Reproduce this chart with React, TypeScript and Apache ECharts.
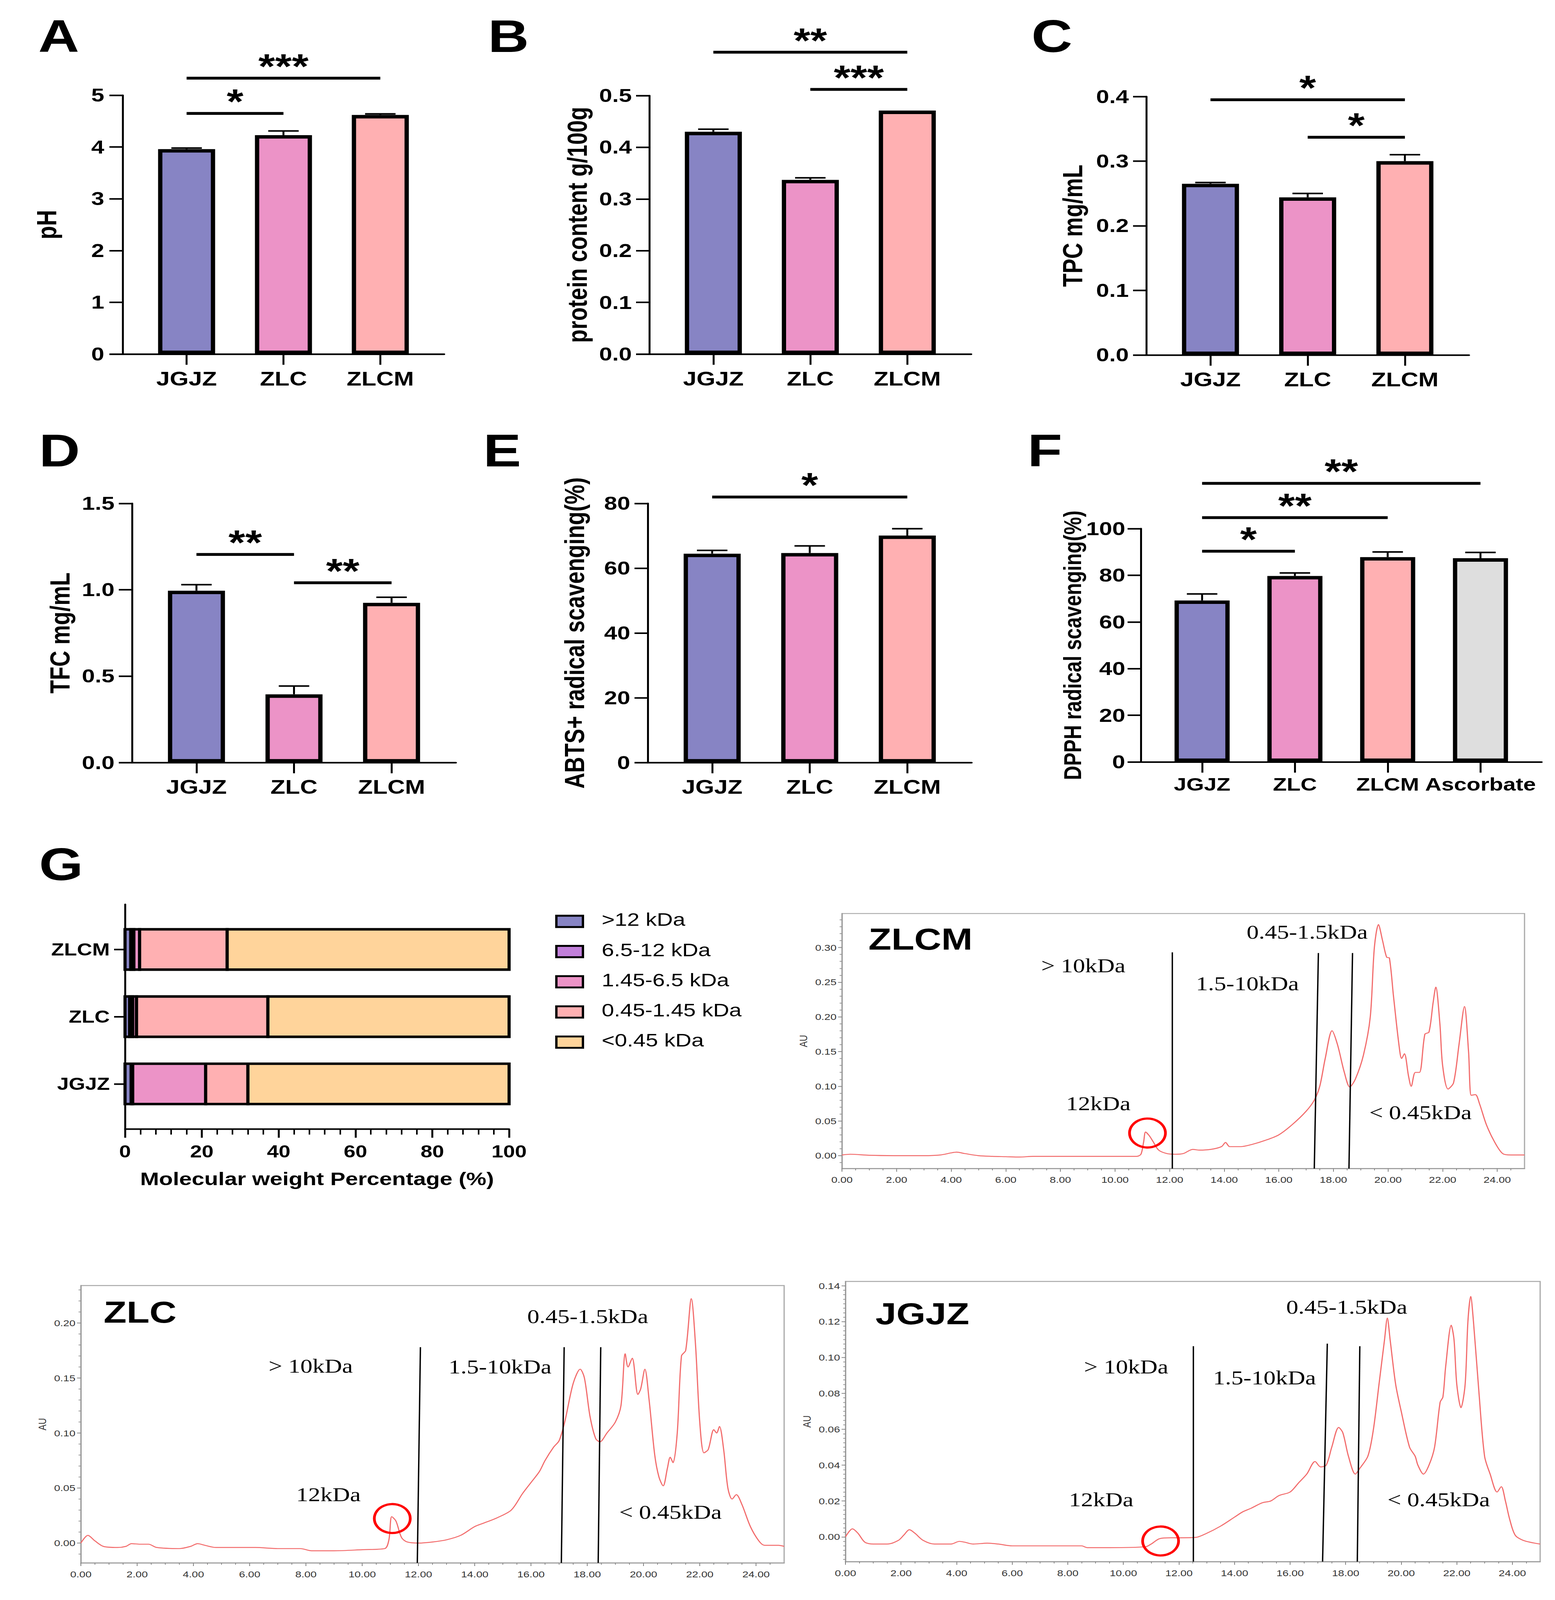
import React, { useEffect, useRef, useState } from 'react';
import * as echarts from 'echarts';

const SANS = '"Liberation Sans", Arial, Helvetica, sans-serif';
const SERIF = '"Liberation Serif", "Times New Roman", serif';
const DESIGN_W = 3980;
const DESIGN_H = 5088;

// ---------------- Panels A–F data ----------------
const groups3 = ['JGJZ', 'ZLC', 'ZLCM'];
const groups4 = ['JGJZ', 'ZLC', 'ZLCM', 'Ascorbate'];
const groupColors = ['#8784C4', '#EC93C7', '#FFB0B2', '#DEDEDE'];

const phMean = [3.96, 4.23, 4.62];
const phErr = [0.02, 0.08, 0.02];
const proteinMean = [0.43, 0.337, 0.471];
const proteinErr = [0.005, 0.004, 0.0];
const tpcMean = [0.265, 0.244, 0.3];
const tpcErr = [0.002, 0.006, 0.01];
const tfcMean = [0.995, 0.395, 0.925];
const tfcErr = [0.035, 0.048, 0.032];
const abtsMean = [64.5, 64.7, 70.1];
const abtsErr = [1.0, 2.2, 2.1];
const dpphMean = [69.2, 79.7, 87.8, 87.3];
const dpphErr = [2.8, 1.3, 2.2, 2.5];

// significance brackets: [fromGroup, toGroup, level (data units), stars]
const sigA: any[] = [[0, 2, 5.33, '***'], [0, 1, 4.65, '*']];
const sigB: any[] = [[0, 2, 0.584, '**'], [1, 2, 0.512, '***']];
const sigC: any[] = [[0, 2, 0.395, '*'], [1, 2, 0.337, '*']];
const sigD: any[] = [[0, 1, 1.205, '**'], [1, 2, 1.041, '**']];
const sigE: any[] = [[0, 2, 82.0, '*']];
const sigF: any[] = [[0, 3, 119.4, '**'], [0, 2, 104.7, '**'], [0, 1, 90.3, '*']];

// ---------------- Panel G data ----------------
const gCats = ['JGJZ', 'ZLC', 'ZLCM'];
const gSegNames = ['>12 kDa', '6.5-12 kDa', '1.45-6.5 kDa', '0.45-1.45 kDa', '<0.45 kDa'];
const gSegColors = ['#8784C4', '#C17FDA', '#EC93C7', '#FFB0B2', '#FFD49B'];
const gGt12 = [1.6, 1.2, 1.5];
const g65to12 = [0.4, 0.8, 0.8];
const g145to65 = [19.0, 1.0, 1.5];
const g045to145 = [11.0, 34.2, 22.8];
const gLt045 = [68.0, 62.8, 73.4];

// ---------------- Chromatogram data (time min, AU) ----------------
const zlcmTrace = [
  [0, 0.001], [0.3, 0.002], [1, 0.0005], [2, 0], [3, 0], [3.6, 0.001], [4.0, 0.004], [4.2, 0.005], [4.5, 0.003],
  [5.0, 0], [5.5, -0.001], [6.0, -0.0015], [6.5, -0.002], [7, -0.001], [8, -0.001], [9, -0.001], [10, -0.001],
  [10.8, -0.001], [10.95, 0.002], [11.05, 0.02], [11.12, 0.034], [11.25, 0.029], [11.4, 0.02], [11.6, 0.008],
  [11.9, 0.003], [12.2, 0.002], [12.5, 0.003], [12.85, 0.009], [13.1, 0.008], [13.5, 0.009], [13.9, 0.013],
  [14.05, 0.019], [14.2, 0.013], [14.6, 0.013], [15.0, 0.016], [15.5, 0.022], [16.0, 0.03], [16.5, 0.045],
  [17.0, 0.064], [17.3, 0.08], [17.5, 0.1], [17.7, 0.14], [17.95, 0.18], [18.15, 0.16], [18.4, 0.12],
  [18.6, 0.099], [18.8, 0.11], [19.1, 0.145], [19.35, 0.2], [19.5, 0.3], [19.65, 0.333], [19.8, 0.31],
  [19.95, 0.286], [20.05, 0.285], [20.2, 0.23], [20.4, 0.16], [20.5, 0.14], [20.6, 0.147], [20.75, 0.115],
  [20.85, 0.1], [21.0, 0.12], [21.15, 0.12], [21.35, 0.175], [21.5, 0.178], [21.65, 0.22], [21.75, 0.243],
  [21.9, 0.19], [22.0, 0.13], [22.2, 0.096], [22.4, 0.105], [22.6, 0.16], [22.8, 0.215], [22.95, 0.15],
  [23.05, 0.087], [23.2, 0.088], [23.35, 0.075], [23.6, 0.045], [23.9, 0.02], [24.2, 0.003], [24.5, 0.001], [25, 0.001],
];
const zlcTrace = [
  [0, 0], [0.25, 0.007], [0.5, 0.002], [0.8, -0.003], [1.3, -0.004], [1.6, -0.003], [1.8, -0.0005], [2.1, -0.001],
  [2.4, -0.001], [2.7, -0.004], [3.5, -0.005], [3.9, -0.003], [4.15, -0.0005], [4.4, -0.002], [4.8, -0.004],
  [5.5, -0.004], [6.2, -0.004], [7, -0.005], [7.8, -0.005], [8.2, -0.007], [9, -0.007], [10, -0.006],
  [10.8, -0.005], [10.95, 0.003], [11.05, 0.024], [11.2, 0.02], [11.4, 0.005], [11.6, 0.001], [12.0, 0],
  [12.5, 0.001], [13, 0.003], [13.5, 0.007], [14.0, 0.015], [14.3, 0.018], [14.8, 0.023], [15.3, 0.03],
  [15.7, 0.045], [16.0, 0.055], [16.3, 0.065], [16.5, 0.075], [16.8, 0.087], [17.0, 0.093], [17.2, 0.11],
  [17.5, 0.145], [17.75, 0.158], [17.9, 0.15], [18.1, 0.115], [18.3, 0.095], [18.45, 0.092], [18.7, 0.1],
  [19.0, 0.11], [19.2, 0.125], [19.35, 0.172], [19.45, 0.16], [19.6, 0.168], [19.8, 0.135], [19.9, 0.14],
  [20.05, 0.158], [20.2, 0.13], [20.4, 0.08], [20.55, 0.06], [20.7, 0.052], [20.85, 0.068], [20.95, 0.078],
  [21.05, 0.073], [21.2, 0.1], [21.35, 0.17], [21.5, 0.175], [21.7, 0.222], [21.85, 0.18], [22.0, 0.11],
  [22.15, 0.082], [22.3, 0.085], [22.5, 0.103], [22.6, 0.1], [22.7, 0.106], [22.85, 0.085], [23.0, 0.05],
  [23.15, 0.04], [23.3, 0.044], [23.5, 0.035], [23.8, 0.015], [24.1, 0.002], [24.3, -0.002], [24.8, -0.002], [25, -0.003],
];
const jgjzTrace = [
  [0, 0], [0.25, 0.0045], [0.45, 0.002], [0.7, -0.003], [1.0, -0.004], [1.5, -0.004], [1.9, -0.002], [2.1, 0.001],
  [2.3, 0.004], [2.5, 0.002], [2.8, -0.002], [3.2, -0.004], [3.8, -0.004], [4.1, -0.0025], [4.3, -0.003],
  [4.6, -0.004], [5.1, -0.0035], [5.5, -0.004], [6.0, -0.005], [7, -0.005], [8.5, -0.005], [8.7, -0.006],
  [9.5, -0.006], [10.8, -0.0055], [11.0, -0.004], [11.3, -0.001], [11.7, -0.0005], [12.0, -0.0005],
  [12.6, -0.0003], [13.0, 0.002], [13.5, 0.006], [14.0, 0.011], [14.3, 0.014], [14.6, 0.016], [15.0, 0.019],
  [15.3, 0.02], [15.6, 0.023], [16.0, 0.025], [16.3, 0.03], [16.6, 0.035], [16.9, 0.042], [17.1, 0.039],
  [17.3, 0.04], [17.5, 0.05], [17.75, 0.061], [17.9, 0.058], [18.1, 0.045], [18.35, 0.035], [18.5, 0.038],
  [18.8, 0.045], [19.0, 0.06], [19.2, 0.085], [19.4, 0.11], [19.5, 0.122], [19.6, 0.11], [19.8, 0.085],
  [20.0, 0.07], [20.3, 0.05], [20.5, 0.045], [20.6, 0.04], [20.8, 0.035], [21.0, 0.04], [21.2, 0.05],
  [21.4, 0.075], [21.5, 0.078], [21.6, 0.095], [21.8, 0.118], [21.9, 0.11], [22.0, 0.085], [22.15, 0.072],
  [22.3, 0.085], [22.4, 0.12], [22.5, 0.134], [22.6, 0.12], [22.8, 0.08], [23.0, 0.045], [23.2, 0.035],
  [23.45, 0.025], [23.6, 0.028], [23.75, 0.02], [23.9, 0.01], [24.1, 0.001], [24.4, -0.002], [25, -0.004],
];

// annotations in (time, AU)
const zlcmMarks: any[] = [['> 10kDa', 8.84, 0.274], ['1.5-10kDa', 14.85, 0.248], ['0.45-1.5kDa', 17.04, 0.322], ['12kDa', 9.39, 0.075], ['< 0.45kDa', 21.19, 0.062]];
const zlcmCuts = [[12.1, 0.293, 12.1], [17.45, 0.292, 17.3], [18.7, 0.292, 18.57]];
const zlcmCircle = [11.19, 0.0326];
const zlcMarks: any[] = [['> 10kDa', 8.17, 0.161], ['1.5-10kDa', 14.9, 0.16], ['0.45-1.5kDa', 18.02, 0.206], ['12kDa', 8.8, 0.044], ['< 0.45kDa', 20.96, 0.028]];
const zlcCuts = [[12.07, 0.178, 11.96], [17.18, 0.178, 17.08], [18.48, 0.178, 18.39]];
const zlcCircle = [11.07, 0.0223];
const jgjzMarks: any[] = [['> 10kDa', 10.1, 0.0948], ['1.5-10kDa', 15.08, 0.0887], ['0.45-1.5kDa', 18.04, 0.128], ['12kDa', 9.2, 0.0207], ['< 0.45kDa', 21.35, 0.0207]];
const jgjzCuts = [[12.52, 0.1063, 12.52], [17.34, 0.1077, 17.17], [18.51, 0.1063, 18.42]];
const jgjzCircle = [11.34, -0.0023];

const zlcmYTicks = [0, 0.05, 0.1, 0.15, 0.2, 0.25, 0.3];
const zlcYTicks = [0, 0.05, 0.1, 0.15, 0.2];
const jgjzYTicks = [0, 0.02, 0.04, 0.06, 0.08, 0.1, 0.12, 0.14];
const chromXTicks = [0, 2, 4, 6, 8, 10, 12, 14, 16, 18, 20, 22, 24];

function steps(a: number, b: number, s: number) {
  const out: number[] = [];
  const n = Math.round((b - a) / s);
  for (let i = 0; i <= n; i++) out.push(+(a + i * s).toFixed(5));
  return out;
}

// ---------------- layout ----------------
const barPanels = [
  { cats: groups3, mean: phMean, err: phErr, sig: sigA, grid: { left: 314, top: 303, width: 823, height: 823 }, yMax: 5, yInt: 1, dec: 0, title: 'pH', nameGap: 160, catFont: 62, titleFont: 70, barW: 146, labMargin: 47, tickMargin: 47 },
  { cats: groups3, mean: proteinMean, err: proteinErr, sig: sigB, grid: { left: 1662, top: 304, width: 824, height: 822 }, yMax: 0.5, yInt: 0.1, dec: 1, title: 'protein content g/100g', nameGap: 150, catFont: 62, titleFont: 70, barW: 146, labMargin: 47, tickMargin: 45 },
  { cats: groups3, mean: tpcMean, err: tpcErr, sig: sigC, grid: { left: 2934, top: 307, width: 826, height: 822 }, yMax: 0.4, yInt: 0.1, dec: 1, title: 'TPC mg/mL', nameGap: 154, catFont: 62, titleFont: 70, barW: 146, labMargin: 47, tickMargin: 45 },
  { cats: groups3, mean: tfcMean, err: tfcErr, sig: sigD, grid: { left: 338, top: 1601, width: 829, height: 824 }, yMax: 1.5, yInt: 0.5, dec: 1, title: 'TFC mg/mL', nameGap: 150, catFont: 62, titleFont: 70, barW: 146, labMargin: 47, tickMargin: 45 },
  { cats: groups3, mean: abtsMean, err: abtsErr, sig: sigE, grid: { left: 1658, top: 1601, width: 829, height: 824 }, yMax: 80, yInt: 20, dec: 0, title: 'ABTS+ radical scavenging(%)', nameGap: 153, catFont: 62, titleFont: 70, barW: 146, labMargin: 47, tickMargin: 45 },
  { cats: groups4, mean: dpphMean, err: dpphErr, sig: sigF, grid: { left: 2920, top: 1681, width: 1026, height: 742 }, yMax: 100, yInt: 20, dec: 0, title: 'DPPH radical scavenging(%)', nameGap: 140, catFont: 58, titleFont: 63, barW: 141, labMargin: 42, tickMargin: 40 },
];

const chroms = [
  { trace: zlcmTrace, name: 'ZLCM', marks: zlcmMarks, cuts: zlcmCuts, circle: zlcmCircle, titleAt: [0.97, 0.312], yMin: -0.0186, yMax: 0.349, yTicks: zlcmYTicks, yMinor: steps(-0.01, 0.34, 0.01), grid: { left: 2155, top: 2905, width: 1747, height: 811 } },
  { trace: zlcTrace, name: 'ZLC', marks: zlcMarks, cuts: zlcCuts, circle: zlcCircle, titleAt: [0.81, 0.21], yMin: -0.018, yMax: 0.234, yTicks: zlcYTicks, yMinor: steps(-0.01, 0.23, 0.01), grid: { left: 207, top: 4088, width: 1800, height: 882 } },
  { trace: jgjzTrace, name: 'JGJZ', marks: jgjzMarks, cuts: jgjzCuts, circle: jgjzCircle, titleAt: [1.08, 0.1245], yMin: -0.0138, yMax: 0.1424, yTicks: jgjzYTicks, yMinor: steps(-0.0125, 0.14, 0.0025), grid: { left: 2164, top: 4075, width: 1778, height: 891 } },
];

const panelLetters = [
  ['A', 98, 122], ['B', 1249, 122], ['C', 2640, 122],
  ['D', 100, 1440], ['E', 1237, 1440], ['F', 2630, 1440], ['G', 100, 2756],
];

function buildOption() {
  const grid: any[] = [];
  const xAxis: any[] = [];
  const yAxis: any[] = [];
  const series: any[] = [];
  const graphic: any[] = [];

  const blackLine = { color: '#000', width: 5 };

  barPanels.forEach((p, i) => {
    grid.push({ ...p.grid });
    const idx = p.cats.map((_, k) => k);
    xAxis.push({
      gridIndex: i, type: 'value', min: -0.66, max: p.cats.length - 1 + 0.66,
      axisLine: { show: true, onZero: false, lineStyle: blackLine },
      axisTick: { show: true, customValues: idx, length: 34, lineStyle: blackLine },
      axisLabel: {
        customValues: idx, formatter: (v: number) => p.cats[Math.round(v)] ?? '',
        margin: p.labMargin, fontFamily: SANS, fontWeight: 'bold', fontSize: p.catFont, color: '#000',
      },
      splitLine: { show: false },
    });
    yAxis.push({
      gridIndex: i, type: 'value', min: 0, max: p.yMax, interval: p.yInt,
      name: p.title, nameLocation: 'middle', nameGap: p.nameGap,
      nameTextStyle: { fontFamily: SANS, fontWeight: 'bold', fontSize: p.titleFont, color: '#000' },
      axisLine: { show: true, onZero: false, lineStyle: blackLine },
      axisTick: { show: true, length: 34, lineStyle: blackLine },
      axisLabel: {
        formatter: (v: number) => v.toFixed(p.dec), margin: p.tickMargin,
        fontFamily: SANS, fontWeight: 'bold', fontSize: 60, color: '#000',
      },
      splitLine: { show: false },
    });
    series.push({
      type: 'bar', xAxisIndex: i, yAxisIndex: i, barWidth: p.barW, silent: true,
      itemStyle: { borderColor: '#000', borderWidth: 11 },
      data: p.mean.map((m, k) => ({ value: [k, m], itemStyle: { color: groupColors[k] } })),
      z: 2,
    });
    series.push({
      type: 'custom', xAxisIndex: i, yAxisIndex: i, silent: true, z: 3,
      data: p.mean.map((m, k) => [k, m, p.err[k]]),
      renderItem: (params: any, api: any) => {
        const x = api.value(0), m = api.value(1), e = api.value(2);
        if (!(e > 0)) return { type: 'group', children: [] };
        const b = api.coord([x, m]);
        const t = api.coord([x, m + e]);
        return {
          type: 'group', children: [
            { type: 'line', shape: { x1: b[0], y1: b[1], x2: t[0], y2: t[1] }, style: { stroke: '#000', lineWidth: 5 } },
            { type: 'line', shape: { x1: t[0] - 39, y1: t[1], x2: t[0] + 39, y2: t[1] }, style: { stroke: '#000', lineWidth: 5 } },
          ],
        };
      },
    });
    series.push({
      type: 'custom', xAxisIndex: i, yAxisIndex: i, silent: true, clip: false, z: 4,
      data: p.sig.map((s) => [s[0], s[2]]),
      renderItem: (params: any, api: any) => {
        const s = p.sig[params.dataIndex];
        const p1 = api.coord([s[0], s[2]]);
        const p2 = api.coord([s[1], s[2]]);
        return {
          type: 'group', children: [
            { type: 'line', shape: { x1: p1[0], y1: p1[1], x2: p2[0], y2: p2[1] }, style: { stroke: '#000', lineWidth: 9 } },
            {
              type: 'text', x: (p1[0] + p2[0]) / 2, y: p1[1] - 38,
              style: { text: s[3], fontFamily: SANS, fontWeight: 'bold', fontSize: 110, fill: '#000', align: 'center', verticalAlign: 'middle', textAlign: 'center', textVerticalAlign: 'middle' },
            },
          ],
        };
      },
    });
  });

  // ---------- Panel G ----------
  const gi = 6;
  grid.push({ left: 320, top: 2876, width: 983, height: 714 });
  xAxis.push({
    gridIndex: gi, type: 'value', min: 0, max: 100, interval: 20,
    name: 'Molecular weight Percentage (%)', nameLocation: 'middle', nameGap: 129,
    nameTextStyle: { fontFamily: SANS, fontWeight: 'bold', fontSize: 58, color: '#000' },
    axisLine: { show: true, onZero: false, lineStyle: blackLine },
    axisTick: { show: true, length: 28, lineStyle: blackLine },
    minorTick: { show: true, splitNumber: 5, length: 18, lineStyle: { color: '#000', width: 4 } },
    axisLabel: { margin: 45, fontFamily: SANS, fontWeight: 'bold', fontSize: 54, color: '#000' },
    splitLine: { show: false },
  });
  yAxis.push({
    gridIndex: gi, type: 'value', min: -0.67, max: 2.67,
    axisLine: { show: true, onZero: false, lineStyle: blackLine },
    axisTick: { show: true, customValues: [0, 1, 2], length: 28, lineStyle: blackLine },
    axisLabel: {
      customValues: [0, 1, 2], formatter: (v: number) => gCats[Math.round(v)] ?? '',
      margin: 39, fontFamily: SANS, fontWeight: 'bold', fontSize: 54, color: '#000',
    },
    splitLine: { show: false },
  });
  const gSegs = [gGt12, g65to12, g145to65, g045to145, gLt045];
  gSegs.forEach((seg, j) => {
    const data = seg.map((v, k) => {
      let start = 0;
      for (let q = 0; q < j; q++) start += gSegs[q][k];
      return [start, k, v];
    });
    series.push({
      type: 'custom', name: gSegNames[j], xAxisIndex: gi, yAxisIndex: gi, silent: true, z: 2,
      itemStyle: { color: gSegColors[j] },
      data,
      renderItem: (params: any, api: any) => {
        const s = api.value(0), k = api.value(1), v = api.value(2);
        const a = api.coord([s, k]);
        const b = api.coord([s + v, k]);
        const h = api.size([0, 1])[1] * 0.6;
        return {
          type: 'rect', shape: { x: a[0], y: a[1] - h / 2, width: b[0] - a[0], height: h },
          style: { fill: gSegColors[j], stroke: '#000', lineWidth: 8 },
        };
      },
    });
  });
  gSegNames.forEach((nm, j) => {
    const cy = 2927 + j * 96;
    graphic.push({ type: 'rect', left: 1421, top: cy - 18, shape: { width: 68, height: 36 }, style: { fill: gSegColors[j], stroke: '#000', lineWidth: 6 } });
    graphic.push({ type: 'text', left: 1540, top: cy - 31, style: { text: nm, fontFamily: SANS, fontSize: 57, fill: '#000' } });
  });

  // ---------- Chromatograms ----------
  chroms.forEach((c, n) => {
    const g = 7 + n;
    const aMain = 7 + n * 2;
    grid.push({ ...c.grid, show: true, borderColor: '#a8a8a8', borderWidth: 3, backgroundColor: 'transparent' });
    const grayLine = { color: '#9a9a9a', width: 3 };
    const lbl = { fontFamily: SANS, fontSize: 28, color: '#333' };
    xAxis.push({
      gridIndex: g, type: 'value', position: 'bottom', min: 0, max: 25,
      axisLine: { show: true, onZero: false, lineStyle: grayLine },
      axisTick: { show: true, customValues: chromXTicks, length: 10, lineStyle: { color: '#777', width: 2 } },
      axisLabel: { customValues: chromXTicks, formatter: (v: number) => v.toFixed(2), margin: 22, ...lbl },
      splitLine: { show: false },
    });
    xAxis.push({
      gridIndex: g, type: 'value', position: 'bottom', min: 0, max: 25,
      axisLine: { show: false, onZero: false },
      axisTick: { show: true, customValues: steps(0.5, 24.5, 0.5), length: 6, lineStyle: { color: '#888', width: 2 } },
      axisLabel: { show: false },
      splitLine: { show: false },
    });
    yAxis.push({
      gridIndex: g, type: 'value', position: 'left', min: c.yMin, max: c.yMax,
      name: 'AU', nameLocation: 'middle', nameGap: 85, nameTextStyle: { ...lbl },
      axisLine: { show: true, onZero: false, lineStyle: grayLine },
      axisTick: { show: true, customValues: c.yTicks, length: 10, lineStyle: { color: '#777', width: 2 } },
      axisLabel: { customValues: c.yTicks, formatter: (v: number) => v.toFixed(2), margin: 14, ...lbl },
      splitLine: { show: false },
    });
    yAxis.push({
      gridIndex: g, type: 'value', position: 'left', min: c.yMin, max: c.yMax,
      axisLine: { show: false, onZero: false },
      axisTick: { show: true, customValues: c.yMinor, length: 6, lineStyle: { color: '#888', width: 2 } },
      axisLabel: { show: false },
      splitLine: { show: false },
    });
    series.push({
      type: 'line', xAxisIndex: aMain, yAxisIndex: aMain, data: c.trace, showSymbol: false, smooth: 0.3,
      lineStyle: { color: '#F26B6B', width: 3 }, silent: true, z: 3,
    });
    series.push({
      type: 'custom', xAxisIndex: aMain, yAxisIndex: aMain, silent: true, z: 4,
      data: c.cuts.map((q) => [q[0], q[1]]),
      renderItem: (params: any, api: any) => {
        const q = c.cuts[params.dataIndex];
        const t = api.coord([q[0], q[1]]);
        const b = api.coord([q[2], c.yMin]);
        return { type: 'line', shape: { x1: t[0], y1: t[1], x2: b[0], y2: b[1] }, style: { stroke: '#000', lineWidth: 3.5 } };
      },
    });
    series.push({
      type: 'custom', xAxisIndex: aMain, yAxisIndex: aMain, silent: true, z: 5,
      data: c.marks.map((m) => [m[1], m[2]]),
      renderItem: (params: any, api: any) => {
        const m = c.marks[params.dataIndex];
        const p = api.coord([m[1], m[2]]);
        return {
          type: 'text', x: p[0], y: p[1],
          style: { text: m[0], fontFamily: SERIF, fontSize: 62, fill: '#000', align: 'center', verticalAlign: 'middle', textAlign: 'center', textVerticalAlign: 'middle' },
        };
      },
    });
    series.push({
      type: 'custom', xAxisIndex: aMain, yAxisIndex: aMain, silent: true, z: 5,
      data: [c.titleAt],
      renderItem: (params: any, api: any) => {
        const p = api.coord([c.titleAt[0], c.titleAt[1]]);
        return {
          type: 'text', x: p[0], y: p[1],
          style: { text: c.name, fontFamily: SANS, fontWeight: 'bold', fontSize: 96, fill: '#000', align: 'left', verticalAlign: 'middle', textAlign: 'left', textVerticalAlign: 'middle' },
        };
      },
    });
    series.push({
      type: 'custom', xAxisIndex: aMain, yAxisIndex: aMain, silent: true, z: 6,
      data: [c.circle],
      renderItem: (params: any, api: any) => {
        const p = api.coord([c.circle[0], c.circle[1]]);
        return { type: 'circle', shape: { cx: p[0], cy: p[1], r: 46 }, style: { fill: 'none', stroke: '#FF0000', lineWidth: 7 } };
      },
    });
  });

  panelLetters.forEach((l) => {
    graphic.push({
      type: 'text', left: l[1], top: (l[2] as number) - 80,
      style: { text: l[0], fontFamily: SANS, fontWeight: 'bold', fontSize: 145, fill: '#000' },
    });
  });

  return {
    animation: false,
    backgroundColor: '#ffffff',
    grid, xAxis, yAxis, series, graphic,
  };
}

if (typeof document !== 'undefined' && document.body) {
  document.body.style.margin = '0';
  document.body.style.overflow = 'hidden';
  document.documentElement.style.margin = '0';
  document.documentElement.style.overflow = 'hidden';
}

function viewport() {
  if (typeof window === 'undefined') return { w: DESIGN_W, h: DESIGN_H };
  const w = window.innerWidth || DESIGN_W;
  const h = window.innerHeight || DESIGN_H;
  return { w, h };
}

export default function App() {
  const ref = useRef<HTMLDivElement>(null);
  const [vp] = useState(viewport);
  const sx = vp.w / DESIGN_W;
  const sy = vp.h / DESIGN_H;
  useEffect(() => {
    if (!ref.current) return;
    document.body.style.margin = '0';
    const chart = echarts.init(ref.current, undefined, { renderer: 'svg' });
    chart.setOption(buildOption() as any);
    return () => chart.dispose();
  }, []);
  return (
    <div style={{ position: 'relative', width: vp.w, height: vp.h, overflow: 'hidden', background: '#fff' }}>
      <div
        ref={ref}
        style={{
          width: DESIGN_W, height: DESIGN_H, background: '#fff',
          transform: `scale(${sx}, ${sy})`, transformOrigin: '0 0',
        }}
      />
    </div>
  );
}
